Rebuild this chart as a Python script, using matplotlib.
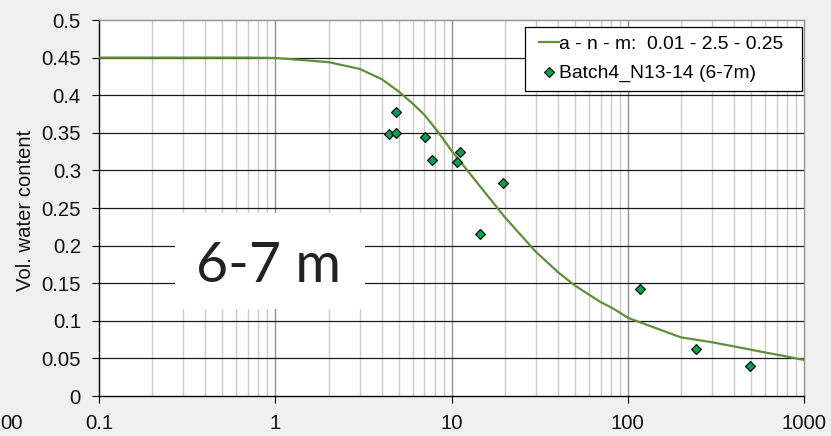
import matplotlib
matplotlib.use("Agg")
import matplotlib.pyplot as plt
from matplotlib.patches import Rectangle

# Fitted retention curve (suction vs. volumetric water content)
curve_x = [0.1, 0.2, 0.3, 0.4, 0.5, 0.6, 0.7, 0.8, 0.9, 1,
           2, 3, 4, 5, 6, 7, 8, 9, 10,
           20, 30, 40, 50, 60, 70, 80, 90, 100,
           200, 300, 400, 500, 600, 700, 800, 900, 1000]
curve_y = [0.45, 0.45, 0.45, 0.45, 0.45, 0.45, 0.45, 0.4498, 0.4497, 0.4495,
           0.444, 0.435, 0.4215, 0.405, 0.389, 0.374, 0.357, 0.341, 0.326,
           0.238, 0.192, 0.165, 0.147, 0.135, 0.125, 0.118, 0.111, 0.104,
           0.078, 0.0715, 0.066, 0.0615, 0.058, 0.055, 0.0525, 0.050, 0.048]

# Measured points
meas_x = [4.85, 4.43, 4.85, 7.06, 7.74, 10.67, 11.2, 19.5, 14.55, 117, 245, 491]
meas_y = [0.378, 0.348, 0.350, 0.344, 0.314, 0.311, 0.325, 0.283, 0.216, 0.142, 0.063, 0.040]

curve_label = "a - n - m:  0.01 - 2.5 - 0.25"
meas_label = "Batch4_N13-14 (6-7m)"
y_label = "Vol. water content"
panel_title = "6-7 m"
edge_text = "00"

xtick_vals = [0.1, 1, 10, 100, 1000]
xtick_labels = ["0.1", "1", "10", "100", "1000"]
ytick_vals = [0, 0.05, 0.1, 0.15, 0.2, 0.25, 0.3, 0.35, 0.4, 0.45, 0.5]
ytick_labels = ["0", "0.05", "0.1", "0.15", "0.2", "0.25", "0.3", "0.35", "0.4", "0.45", "0.5"]

W, H = 831, 436
plt.rcParams["font.family"] = ["Liberation Sans", "DejaVu Sans"]
fig = plt.figure(figsize=(W / 100, H / 100), dpi=100, facecolor="#f0f0f0")

left, right, top, bottom = 99.3, 804.0, 20.0, 396.0
aw, ah = right - left, bottom - top
ax = fig.add_axes([left / W, 1 - bottom / H, aw / W, ah / H])
ax.set_facecolor("white")


def ax_x(px):
    return (px - left) / aw


def ax_y(py):
    return (bottom - py) / ah


ax.set_xscale("log")
ax.set_xlim(0.1, 1000)
ax.set_ylim(0, 0.5)

# Vertical grid: light minor lines, darker decade lines
for dec in [0.1, 1, 10, 100]:
    for k in range(2, 10):
        ax.axvline(dec * k, color="#cacaca", lw=1.0, zorder=0.5)
for dec in [1, 10, 100]:
    ax.axvline(dec, color="#909090", lw=1.0, zorder=0.6)
# Horizontal grid
for yv in ytick_vals[1:-1]:
    ax.axhline(yv, color="#1a1a1a", lw=0.9, zorder=0.7)

for side in ["top", "right"]:
    ax.spines[side].set_color("#909090")
    ax.spines[side].set_linewidth(1.0)
for side in ["left", "bottom"]:
    ax.spines[side].set_color("black")
    ax.spines[side].set_linewidth(1.0)

ax.set_xticks(xtick_vals)
ax.set_xticklabels(xtick_labels)
ax.xaxis.set_minor_locator(matplotlib.ticker.NullLocator())
ax.set_yticks(ytick_vals)
ax.set_yticklabels(ytick_labels)
ax.tick_params(axis="both", direction="out", length=4.8, width=0.8, color="black",
               labelsize=14.6, labelcolor="#111111")
ax.tick_params(axis="y", pad=8.4)
ax.tick_params(axis="x", pad=8.0)

# White panel behind the depth label
ax.add_patch(Rectangle((ax_x(175), ax_y(309.3)), ax_x(365) - ax_x(175),
                       ax_y(212.7) - ax_y(309.3), transform=ax.transAxes,
                       facecolor="white", edgecolor="none", zorder=1.5))
ax.text(ax_x(268), ax_y(281.7), panel_title, transform=ax.transAxes, ha="center",
        va="baseline", fontsize=40, family=["Lato", "DejaVu Sans"], color="#222222",
        zorder=1.6)

ax.plot(curve_x, curve_y, color="#5f8f3a", lw=1.6, zorder=3, label=curve_label)
ax.plot(meas_x, meas_y, ls="none", marker="D", ms=4.6, mfc="#00a050", mec="black",
        mew=0.8, zorder=4, label=meas_label)

# Legend frame drawn separately so the inner padding can differ per direction
ax.add_patch(Rectangle((ax_x(525), ax_y(91)), ax_x(802) - ax_x(525),
                       ax_y(27) - ax_y(91), transform=ax.transAxes,
                       facecolor="white", edgecolor="black", lw=0.9, zorder=5))
leg = ax.legend(loc="upper left", bbox_to_anchor=(ax_x(539), ax_y(35.5)), fontsize=13.9,
                frameon=False, handlelength=1.05, handletextpad=0.0, borderpad=0.0,
                labelspacing=0.61, borderaxespad=0)
leg.set_zorder(6)

fig.text(25.5 / W, 1 - 210 / H, y_label, rotation=90, ha="center", va="center",
         fontsize=14.6, color="#111111")
fig.text(0.5 / W, 1 - 429 / H, edge_text, ha="left", va="baseline", fontsize=14.6,
         color="#111111")

fig.savefig("out.png", dpi=100, facecolor=fig.get_facecolor())
